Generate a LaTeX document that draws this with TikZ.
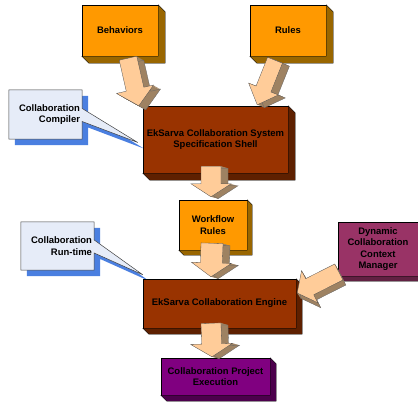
\documentclass[tikz,border=0pt]{standalone}
\usepackage{fontspec}
\setmainfont{Liberation Sans}
\usetikzlibrary{calc, backgrounds}

\definecolor{orangefront}{HTML}{FF9900}
\definecolor{orangeside}{HTML}{996600}
\definecolor{brownfront}{HTML}{993300}
\definecolor{brownside}{HTML}{5E2000}
\definecolor{plumfront}{HTML}{993366}
\definecolor{plumside}{HTML}{612142}
\definecolor{purplefront}{HTML}{800080}
\definecolor{purpleside}{HTML}{4C004C}
\definecolor{arrowfront}{HTML}{FFCC99}
\definecolor{arrowdark}{HTML}{9E8262}
\definecolor{notefill}{HTML}{E6ECF8}
\definecolor{noteshadow}{HTML}{4A7FE0}

\tikzset{
  every node/.style={font=\bfseries\fontsize{9.5}{11.3}\selectfont},
  box/.style={draw=black, line width=0.4pt, inner sep=1pt, align=center},
  note/.style={align=right, inner xsep=2bp, text width=69bp, minimum width=73bp},
  arrowside/.style={fill=arrowdark, draw=black!60, line width=0.3pt},
  arrowface/.style={fill=arrowfront, draw=black!70, line width=0.3pt},
}

% side and bottom faces of a box: node, colour, depth
\newcommand\boxdepth[3]{%
  \filldraw[fill=#2, draw=black, line width=0.4pt] (#1.north east) -- ++(#3,#3)
    -- ($(#1.south east)+(#3,#3)$) -- ($(#1.south west)+(#3,#3)$)
    -- (#1.south west) -- (#1.south east) -- cycle;}

% callout outline round a node, wedge to a tip, moved by (#3,#3)
\newcommand\notepath[3]{($(#1.north west)+(#3,#3)$) -- ($(#1.north east)+(#3,#3)$)
  -- ($(#1.east)+(#3,#3-6)$) -- ($(#2)+(#3,#3)$) -- ($(#1.east)+(#3,#3+7)$)
  -- ($(#1.south east)+(#3,#3)$) -- ($(#1.south west)+(#3,#3)$) -- cycle}
\newcommand\notewedge[2]{%
  \begin{scope}[on background layer]
    \fill[noteshadow] \notepath{#1}{#2}{6};
    \filldraw[fill=notefill, draw=black!75, line width=0.5pt] \notepath{#1}{#2}{0};
  \end{scope}}

% outline of the arrow through p1..p7, moved by (dx,dy)
\newcommand\arrowpath[2]{($(p1)+(#1,#2)$) -- ($(p2)+(#1,#2)$) -- ($(p3)+(#1,#2)$)
  -- ($(p4)+(#1,#2)$) -- ($(p5)+(#1,#2)$) -- ($(p6)+(#1,#2)$) -- ($(p7)+(#1,#2)$) -- cycle}

% block arrow: tail, tip, shaft half width, head half width, head length, dx, dy
\newcommand\blockarrow[7]{%
  \path (#1) coordinate (t) ($(#2)!#5!(#1)$) coordinate (h);
  \path ($(t)!#3!90:(#2)$) coordinate (p1) ($(h)!#3!90:(#2)$) coordinate (p2)
        ($(h)!#4!90:(#2)$) coordinate (p3) (#2) coordinate (p4)
        ($(h)!#4!-90:(#2)$) coordinate (p5) ($(h)!#3!-90:(#2)$) coordinate (p6)
        ($(t)!#3!-90:(#2)$) coordinate (p7);
  \foreach \k in {1,...,8}
    \fill[arrowdark] \arrowpath{\k*#6/8}{\k*#7/8};
  \draw[arrowside, fill=none] \arrowpath{#6}{#7};
  \filldraw[arrowface] \arrowpath{0}{0};}

\begin{document}
\begin{tikzpicture}[x=1bp, y=-1bp]
  \useasboundingbox (0,0) rectangle (418,402);
  \clip (0,0) rectangle (418,402);

  % inputs
  \node[box, fill=orangefront, minimum width=76bp, minimum height=51bp] (behaviors) at (120,30.5) {Behaviors};
  \boxdepth{behaviors}{orangeside}{7}
  \node[box, fill=orangefront, minimum width=76bp, minimum height=51bp] (rules) at (288,30.5) {Rules};
  \boxdepth{rules}{orangeside}{7}

  % compiler stage
  \node[box, fill=brownfront, minimum width=145bp, minimum height=67bp] (shell) at (215.5,139.5) {EkSarva Collaboration System\\Specification Shell};
  \boxdepth{shell}{brownside}{7}
  \node[box, fill=orangefront, minimum width=68bp, minimum height=50bp] (workflow) at (213,225) {Workflow\\Rules};
  \boxdepth{workflow}{orangeside}{5}

  % run-time stage
  \node[box, fill=brownfront, minimum width=153bp, minimum height=49bp] (engine) at (219.5,303.5) {EkSarva Collaboration Engine};
  \boxdepth{engine}{brownside}{6}
  \node[box, fill=plumfront, minimum width=80bp, minimum height=54bp] (context) at (378,249) {Dynamic\\Collaboration\\Context\\Manager};
  \boxdepth{context}{plumside}{5}
  \node[box, fill=purplefront, minimum width=109bp, minimum height=37bp] (execution) at (215.5,376.5) {Collaboration Project\\Execution};
  \boxdepth{execution}{purpleside}{6}

  % callouts
  \node[note, minimum height=49bp] (compiler) at (45.5,114.5) {Collaboration\\Compiler};
  \notewedge{compiler}{$(shell.west)+(-5,3)$}
  \node[note, minimum height=48bp] (runtime) at (57.5,246) {Collaboration\\Run-time};
  \notewedge{runtime}{$(engine.north west)+(0,-4)$}

  % block arrows
  \blockarrow{$(behaviors.south)+(8,2)$}{$(shell.north west)+(-4,0)$}{9bp}{19bp}{17bp}{7}{4}
  \blockarrow{$(rules.south)+(-13,4)$}{$(shell.north east)+(-31,-1)$}{8bp}{16bp}{17bp}{7}{3}
  \blockarrow{$(shell.south)+(-4.5,-7)$}{$(workflow.north)+(-2,-3)$}{10bp}{20bp}{13bp}{7}{2}
  \blockarrow{$(workflow.south)+(-1,-7)$}{$(engine.north)+(-8.5,-2)$}{11bp}{20bp}{14bp}{7}{2}
  \blockarrow{$(context.west)+(1,23)$}{$(engine.east)+(1,-10.5)$}{9bp}{18bp}{14bp}{3}{5}
  \blockarrow{$(engine.south)+(-8.5,-5)$}{$(execution.north)+(-3.5,-1)$}{10bp}{21bp}{13bp}{7}{2}
\end{tikzpicture}
\end{document}
